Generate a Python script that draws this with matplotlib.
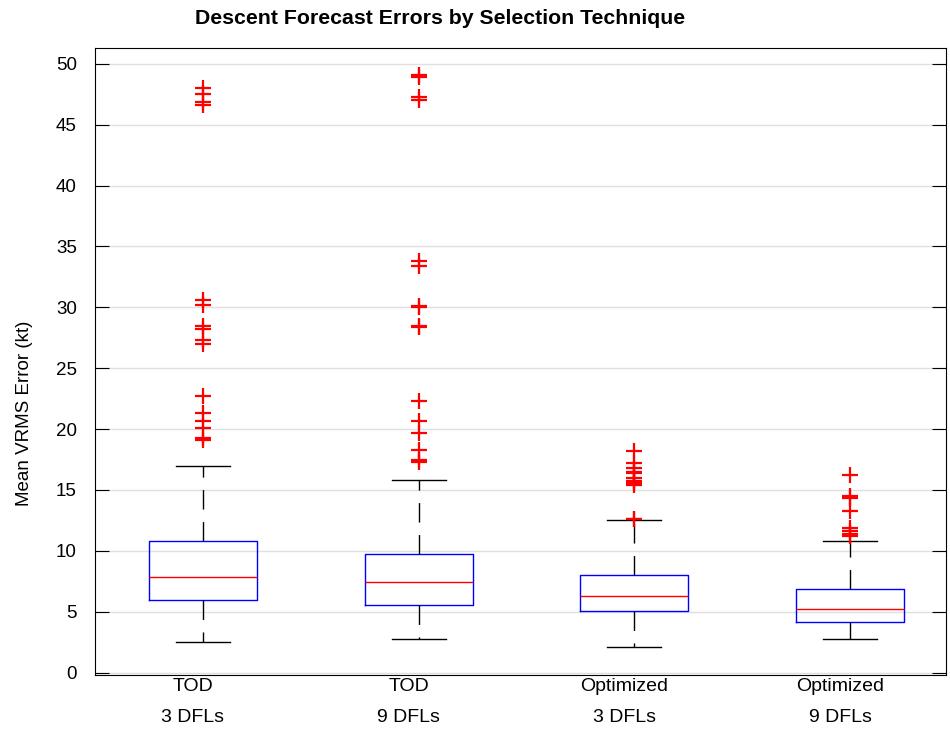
import matplotlib.pyplot as plt
from matplotlib.transforms import ScaledTranslation

# group labels
groups = ['TOD\n3 DFLs', 'TOD\n9 DFLs', 'Optimized\n3 DFLs', 'Optimized\n9 DFLs']

# box statistics (kt)
q1 = [5.99, 5.53, 5.03, 4.19]
med = [7.83, 7.42, 6.26, 5.25]
q3 = [10.78, 9.71, 8.02, 6.84]
whislo = [2.49, 2.77, 2.13, 2.74]
whishi = [16.94, 15.85, 12.5, 10.78]

# outliers
fliers = [
    [48.0, 47.5, 46.9, 46.6, 30.6, 30.2, 28.5, 28.2, 27.3, 27.0,
     22.7, 21.3, 20.7, 20.1, 19.3, 19.1],
    [49.1, 48.9, 47.3, 47.0, 33.8, 33.4, 30.1, 30.0, 28.5, 28.4,
     22.3, 20.7, 19.7, 18.3, 17.5, 17.3],
    [18.2, 17.2, 16.8, 16.5, 16.4, 16.0, 15.7, 15.6, 15.4, 12.65, 12.6],
    [16.26, 14.5, 14.3, 13.3, 11.9, 11.6, 11.4, 11.2],
]

plt.rcParams['font.family'] = ['Liberation Sans', 'DejaVu Sans']

stats = []
for i in range(len(groups)):
    stats.append(dict(label=groups[i], q1=q1[i], med=med[i], q3=q3[i],
                      whislo=whislo[i], whishi=whishi[i], fliers=fliers[i]))

fig = plt.figure(figsize=(9.5, 7.31), dpi=100)
ax = fig.add_axes([0.1, 0.0766, 0.8958, 0.8577])

ax.bxp(stats, widths=0.5, showfliers=True,
       boxprops=dict(color='blue', linewidth=1),
       medianprops=dict(color='red', linewidth=1),
       whiskerprops=dict(color='black', linewidth=1, linestyle=(0, (14, 9))),
       capprops=dict(color='black', linewidth=1),
       flierprops=dict(marker='+', markeredgecolor='red', markersize=12,
                       markeredgewidth=1.6, linestyle='none'),
       capwidths=0.25)

ax.set_xlim(0.5, 4.445)
ax.set_ylim(-0.2, 51.3)
ax.set_yticks(range(0, 51, 5))
ax.yaxis.grid(True, color='#e0e0e0', linewidth=1)
ax.set_axisbelow(True)

ax.tick_params(axis='y', direction='in', length=10, right=True, labelsize=13.5, pad=13)
ax.tick_params(axis='x', length=0, labelsize=14, pad=2.5)
shift = ScaledTranslation(-0.10, 0, fig.dpi_scale_trans)
for lab in ax.get_xticklabels():
    lab.set_linespacing(2.05)
    lab.set_transform(lab.get_transform() + shift)

ax.set_ylabel('Mean VRMS Error (kt)', fontsize=13.5)
ax.yaxis.set_label_coords(-0.073, 0.418)
fig.text(440 / 950, 1 - 18 / 731, 'Descent Forecast Errors by Selection Technique',
         fontsize=15.3, fontweight='bold', ha='center', va='center')

fig.savefig('out.png', dpi=100)
